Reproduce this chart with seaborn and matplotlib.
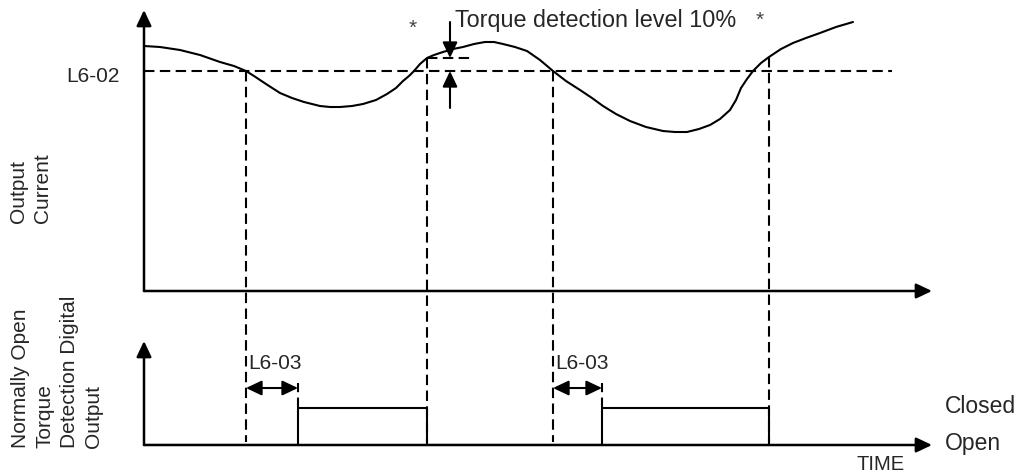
import matplotlib
matplotlib.use("Agg")
import matplotlib.pyplot as plt
import seaborn as sns
import pandas as pd

# ---------------- data (arbitrary time / current units) ----
time_curve = [0, 16, 36, 56, 76, 90, 102, 110, 122, 136, 148, 160, 176, 186, 196,
              208, 219, 232, 243, 252, 259, 265, 270, 276, 283, 290, 299, 309, 319,
              330, 341, 350, 359, 371, 383, 396, 409, 422, 436, 448, 459, 472, 486,
              502, 519, 531, 543, 555, 566, 576, 586, 592, 597, 603, 609, 617, 625,
              637, 649, 662, 676, 692, 709]
current = [245, 244, 241, 236, 229, 225, 220, 215, 207, 198, 193, 189, 185, 184, 184,
           185, 187, 191, 197, 203, 210, 215, 220, 227, 233, 236, 239, 242, 244,
           247, 249, 249, 247, 244, 240, 231, 220, 210, 201, 193, 185, 177, 170,
           164, 160, 159, 159, 162, 166, 172, 181, 191, 203, 212, 220, 228, 234,
           242, 248, 253, 258, 264, 269]
level_L602 = 220          # L6-02 torque detection level
level_hyst = 233          # L6-02 + 10 % hysteresis
event_times = [102, 283, 409, 625]       # crossings that start / stop detection
event_levels = [220, 233, 220, 234]

signal_time = [0, 154, 154, 283, 283, 458, 458, 625, 625]
signal_state = [0, 0, 1, 1, 0, 0, 1, 1, 0]     # 0 = Open, 1 = Closed
delay_spans = [(102, 154), (409, 458)]          # L6-03 delay time

labels_delay = "L6-03"
label_level = "L6-02"
label_torque = "Torque detection level 10%"
label_current = "Output\nCurrent"
label_digital = "Normally Open\nTorque\nDetection Digital\nOutput"
state_labels = ["Closed", "Open"]
time_label = "TIME"

# ---------------- style -----------------------------------------------------------
sns.set_theme(style="white")
plt.rcParams["font.family"] = ["Liberation Sans", "DejaVu Sans"]

W, H = 1022, 476
fig = plt.figure(figsize=(W / 100, H / 100), dpi=100)
fig.patch.set_facecolor("white")

ax1 = fig.add_axes([144 / W, (H - 291) / H, 788 / W, 281 / H])
ax2 = fig.add_axes([144 / W, (H - 445) / H, 788 / W, 104 / H])
ax1.set_xlim(0, 788)
ax1.set_ylim(0, 281)
ax2.set_xlim(0, 788)
ax2.set_ylim(0, 104 / 37)
for ax in (ax1, ax2):
    ax.axis("off")

LW = 1.5
DASH = (5, 2.6)
axis_arrow = dict(arrowstyle="-|>,head_length=0.95,head_width=0.45", mutation_scale=10,
                  lw=1.8, color="black", shrinkA=0, shrinkB=0)

# axes with arrow heads
for ax in (ax1, ax2):
    ax.annotate("", xy=(1, 0), xytext=(0, 0), xycoords="axes fraction",
                arrowprops=axis_arrow, annotation_clip=False)
    ax.annotate("", xy=(0, 1), xytext=(0, 0), xycoords="axes fraction",
                arrowprops=axis_arrow, annotation_clip=False)

# output current curve
df = pd.DataFrame({"time": time_curve, "current": current})
sns.lineplot(data=df, x="time", y="current", ax=ax1, color="black", lw=LW,
             sort=False, estimator=None, solid_joinstyle="round",
             solid_capstyle="round")

# L6-02 level line
ax1.plot([0, 748], [level_L602, level_L602], color="black", lw=LW, dashes=DASH)
# hysteresis short dashed line
ax1.plot([event_times[1], 328], [level_hyst, level_hyst], color="black", lw=LW, dashes=DASH)

# vertical dashed event lines
for t, lv in zip(event_times, event_levels):
    ax1.plot([t, t], [lv, -151], color="black", lw=LW, dashes=DASH, clip_on=False)

# torque detection arrows
small_arrow = dict(arrowstyle="-|>,head_length=0.95,head_width=0.45", mutation_scale=10,
                   lw=1.5, color="black", shrinkA=0, shrinkB=0)
ax1.annotate("", xy=(306, level_hyst), xytext=(306, 269), arrowprops=small_arrow,
             annotation_clip=False)
ax1.annotate("", xy=(306, level_L602), xytext=(306, 183), arrowprops=small_arrow,
             annotation_clip=False)
ax1.text(311, 264, label_torque, fontsize=16.8, ha="left", va="baseline")
ax1.text(269, 263, "*", fontsize=15, color="#444444", ha="center", va="center")
ax1.text(616, 271, "*", fontsize=15, color="#444444", ha="center", va="center")

ax1.text(-24, 214, label_level, fontsize=15, ha="right", va="center")
ax1.text(-113.5, 102.5, label_current, fontsize=15, rotation=90, ha="center",
         va="center", multialignment="left", linespacing=1.35)

# digital output signal
sig = pd.DataFrame({"time": signal_time, "state": signal_state})
sns.lineplot(data=sig, x="time", y="state", ax=ax2, color="black", lw=LW,
             sort=False, estimator=None)

for (t0, t1) in delay_spans:
    ax2.plot([t1, t1], [1, 1.68], color="black", lw=LW, dashes=DASH)
    ax2.annotate("", xy=(t1, 1.54), xytext=(t0, 1.54),
                 arrowprops=dict(arrowstyle="<|-|>,head_length=0.95,head_width=0.45",
                                 mutation_scale=10, lw=1.5, color="black",
                                 shrinkA=0, shrinkB=0),
                 annotation_clip=False)
    ax2.text(t0 + 2, 2.19, labels_delay, fontsize=15, ha="left", va="center")

ax2.text(-87, 1.99, label_digital, fontsize=15, rotation=90, ha="center",
         va="center", multialignment="left", linespacing=1.35)
ax2.text(801, 1.03, state_labels[0], fontsize=16.5, ha="left", va="center")
ax2.text(801, 0.05, state_labels[1], fontsize=16.5, ha="left", va="center")
ax2.text(713, -0.54, time_label, fontsize=14.5, ha="left", va="center")

fig.savefig("out.png", dpi=100, facecolor="white")
